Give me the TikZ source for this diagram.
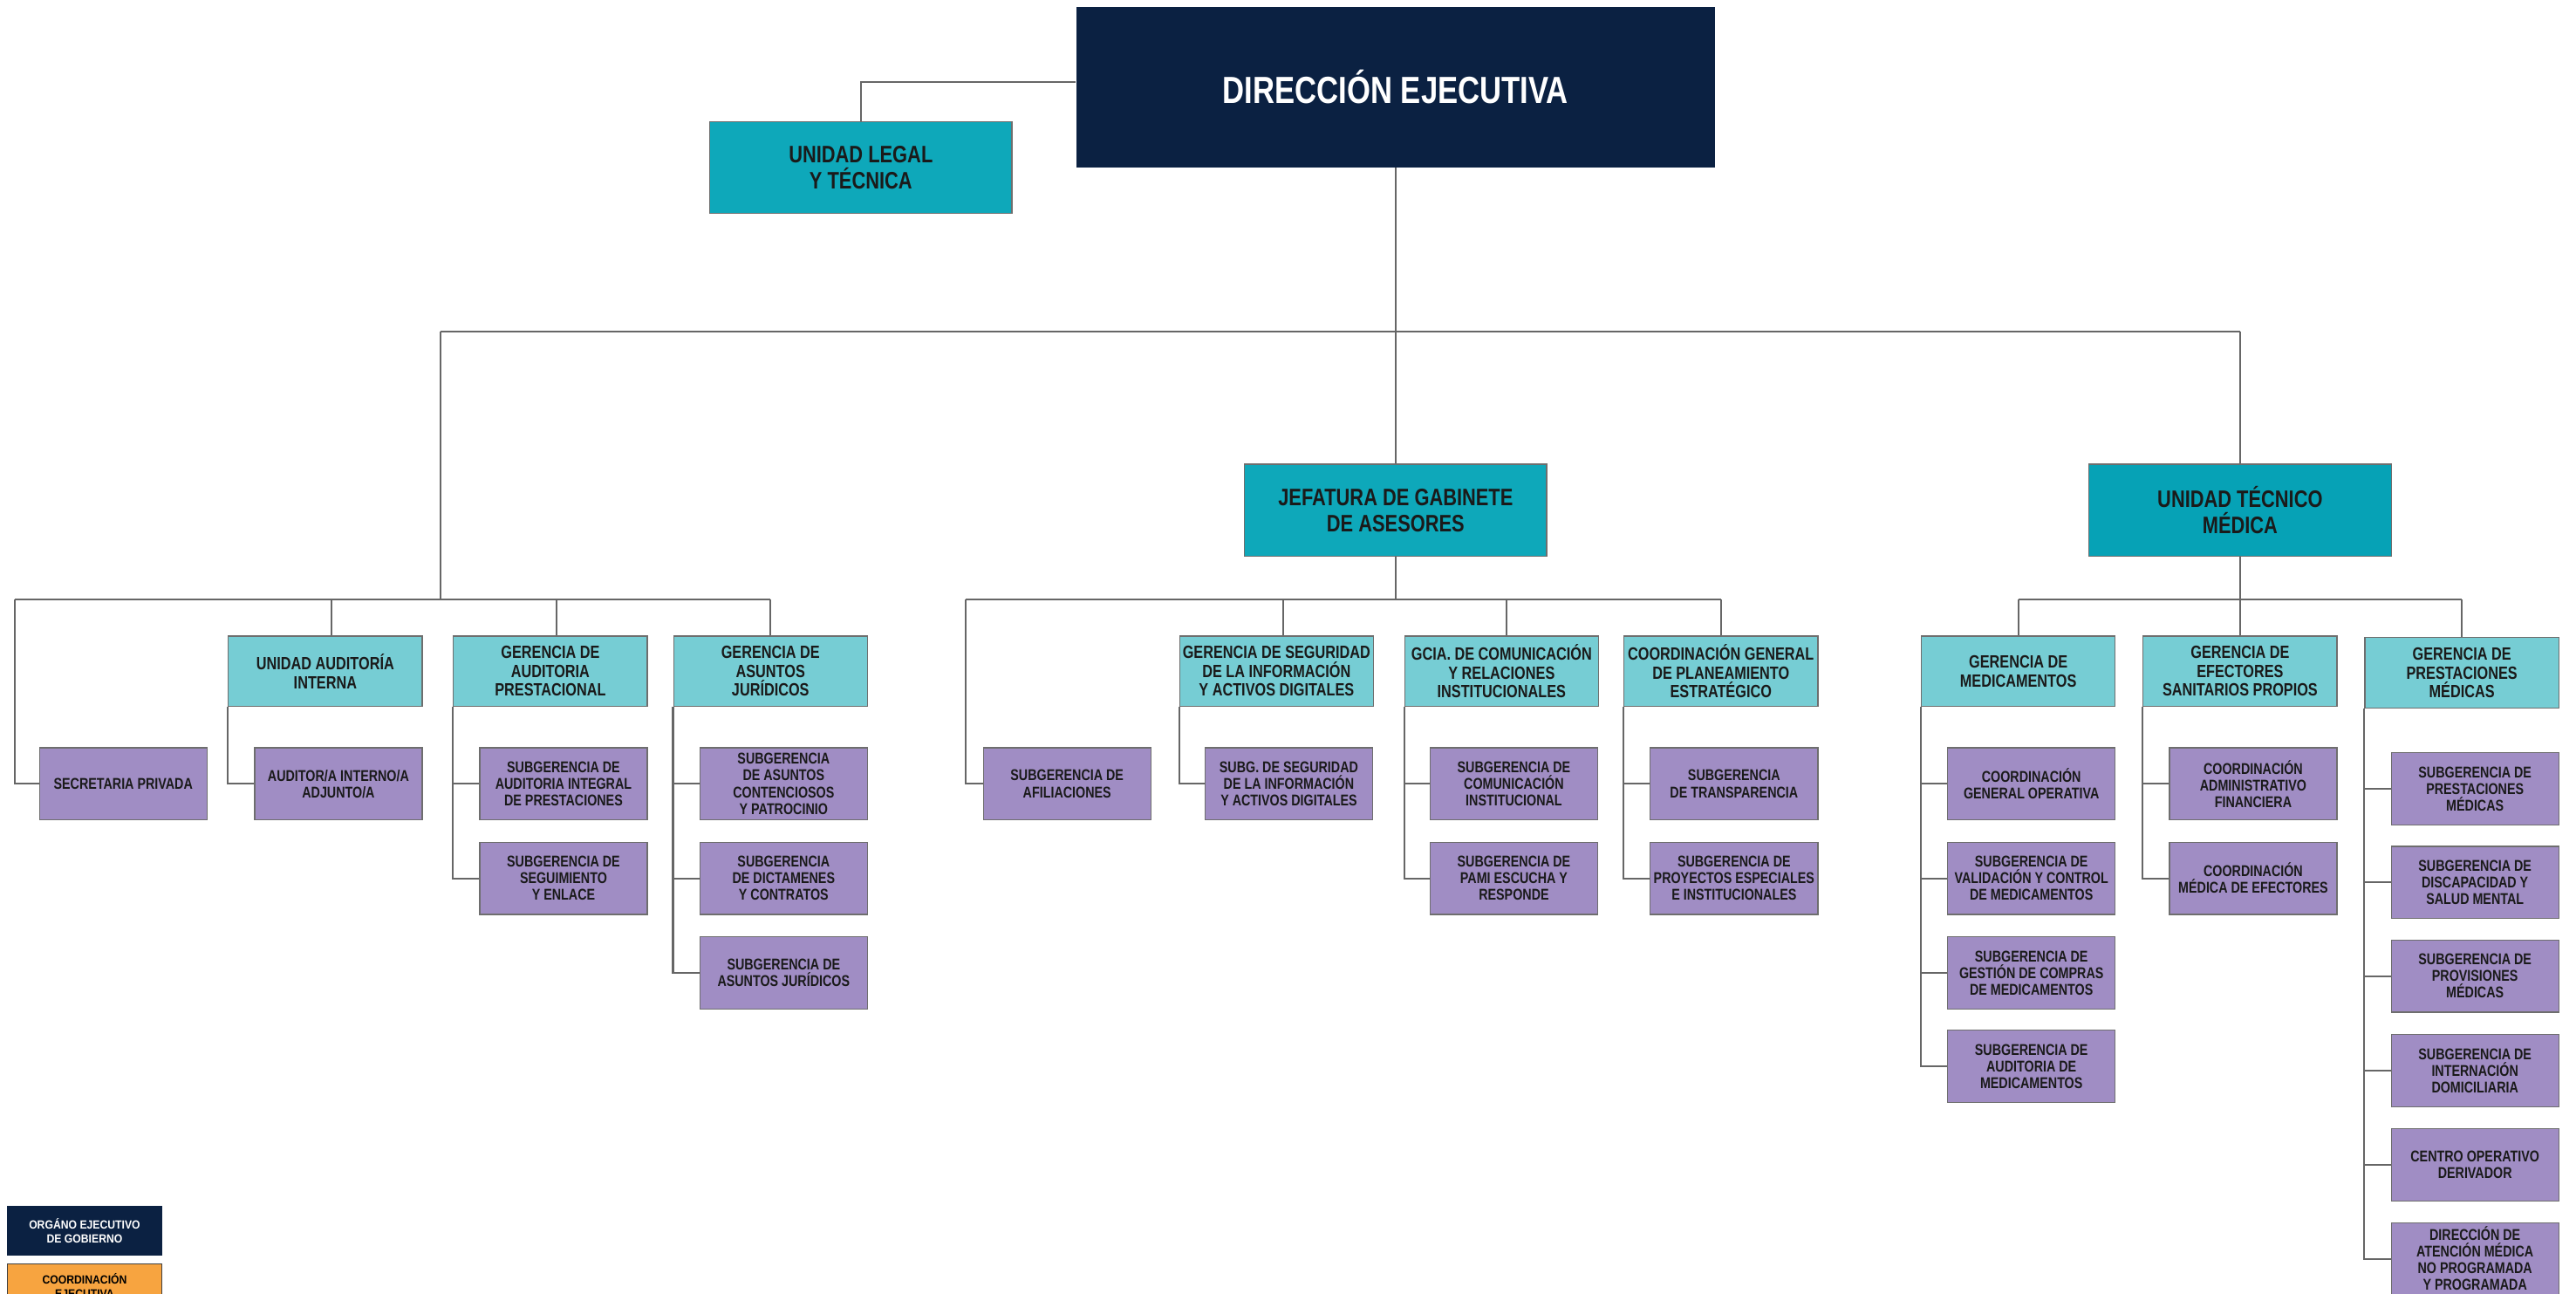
\documentclass[tikz,border=0pt]{standalone}
\usepackage{fontspec}
\setmainfont{Liberation Sans}[FakeStretch=0.8]
\newfontfamily\legfont{Liberation Sans}[FakeStretch=0.9]
\definecolor{navy}{HTML}{0B2142}
\definecolor{tealtop}{HTML}{0EA8BA}
\definecolor{tealutm}{HTML}{06A2B6}
\definecolor{teallight}{HTML}{76CDD4}
\definecolor{purp}{HTML}{A08DC4}
\definecolor{linegray}{HTML}{666666}
\definecolor{boxgray}{HTML}{6E6E6E}
\definecolor{textdark}{HTML}{1A1A1A}
\definecolor{legorange}{HTML}{F7A440}
\begin{document}
\begin{tikzpicture}[x=1pt,y=-1pt,
  box/.style={rectangle, draw=boxgray, line width=0.7pt, inner sep=0pt, align=center, text=textdark},
  dirbox/.style={rectangle, fill=navy, inner sep=0pt, minimum width=389pt, minimum height=98pt, text=white, font=\fontsize{23}{25}\selectfont\bfseries},
  topbox/.style={box, fill=tealtop, minimum width=184pt, minimum height=56pt, font=\fontsize{14.5}{16}\selectfont\bfseries},
  gbox/.style={box, fill=teallight, minimum width=118pt, minimum height=43pt, font=\fontsize{10.8}{11.4}\selectfont\bfseries},
  sbox/.style={box, fill=purp, minimum width=102pt, minimum height=44pt, font=\fontsize{9.5}{10.1}\selectfont\bfseries},
  legbox/.style={rectangle, inner sep=0pt, minimum width=94pt, align=center},
  legtext/.style={inner sep=0pt, align=center, font=\legfont\fontsize{7.2}{8.4}\selectfont\bfseries},
  conn/.style={draw=linegray, line width=1.1pt}
]
\useasboundingbox (0,0) rectangle (1568,787);
\clip (0,0) rectangle (1568,787);
\fill[white] (0,0) rectangle (1568,787);

% top level
\node[dirbox] (dir) at (849.5,53) {DIRECCIÓN EJECUTIVA};
\node[topbox] (legal) at (524,102) {UNIDAD LEGAL\\Y TÉCNICA};
\node[topbox] (jef) at (849.5,310.5) {JEFATURA DE GABINETE\\DE ASESORES};
\node[topbox, fill=tealutm] (utm) at (1363.5,310.5) {UNIDAD TÉCNICO\\MÉDICA};

% level 2
\node[gbox] (uai) at (198,408.5) {UNIDAD AUDITORÍA\\INTERNA};
\node[gbox] (gap) at (335,408.5) {GERENCIA DE\\AUDITORIA\\PRESTACIONAL};
\node[gbox] (gaj) at (469,408.5) {GERENCIA DE\\ASUNTOS\\JURÍDICOS};
\node[gbox] (gsi) at (777,408.5) {GERENCIA DE SEGURIDAD\\DE LA INFORMACIÓN\\Y ACTIVOS DIGITALES};
\node[gbox] (gcom) at (914,408.5) {GCIA. DE COMUNICACIÓN\\Y RELACIONES\\INSTITUCIONALES};
\node[gbox] (cgpe) at (1047.5,408.5) {COORDINACIÓN GENERAL\\DE PLANEAMIENTO\\ESTRATÉGICO};
\node[gbox] (gmed) at (1228.5,408.5) {GERENCIA DE\\MEDICAMENTOS};
\node[gbox] (gefe) at (1363.5,408.5) {GERENCIA DE\\EFECTORES\\SANITARIOS PROPIOS};
\node[gbox] (gpm) at (1498.5,409.5) {GERENCIA DE\\PRESTACIONES\\MÉDICAS};

% level 3
\node[sbox] (sec) at (75,477) {SECRETARIA PRIVADA};
\node[sbox] (aud) at (206,477) {AUDITOR/A INTERNO/A\\ADJUNTO/A};
\node[sbox] (gap1) at (343,477) {SUBGERENCIA DE\\AUDITORIA INTEGRAL\\DE PRESTACIONES};
\node[sbox] (gap2) at (343,534.5) {SUBGERENCIA DE\\SEGUIMIENTO\\Y ENLACE};
\node[sbox] (gaj1) at (477,477) {SUBGERENCIA\\DE ASUNTOS\\CONTENCIOSOS\\Y PATROCINIO};
\node[sbox] (gaj2) at (477,534.5) {SUBGERENCIA\\DE DICTAMENES\\Y CONTRATOS};
\node[sbox] (gaj3) at (477,592) {SUBGERENCIA DE\\ASUNTOS JURÍDICOS};
\node[sbox] (afi) at (649.5,477) {SUBGERENCIA DE\\AFILIACIONES};
\node[sbox] (gsi1) at (784.5,477) {SUBG. DE SEGURIDAD\\DE LA INFORMACIÓN\\Y ACTIVOS DIGITALES};
\node[sbox] (gcom1) at (921.5,477) {SUBGERENCIA DE\\COMUNICACIÓN\\INSTITUCIONAL};
\node[sbox] (gcom2) at (921.5,534.5) {SUBGERENCIA DE\\PAMI ESCUCHA Y\\RESPONDE};
\node[sbox] (cgpe1) at (1055.5,477) {SUBGERENCIA\\DE TRANSPARENCIA};
\node[sbox] (cgpe2) at (1055.5,534.5) {SUBGERENCIA DE\\PROYECTOS ESPECIALES\\E INSTITUCIONALES};
\node[sbox] (gmed1) at (1236.5,477) {COORDINACIÓN\\GENERAL OPERATIVA};
\node[sbox] (gmed2) at (1236.5,534.5) {SUBGERENCIA DE\\VALIDACIÓN Y CONTROL\\DE MEDICAMENTOS};
\node[sbox] (gmed3) at (1236.5,592) {SUBGERENCIA DE\\GESTIÓN DE COMPRAS\\DE MEDICAMENTOS};
\node[sbox] (gmed4) at (1236.5,649) {SUBGERENCIA DE\\AUDITORIA DE\\MEDICAMENTOS};
\node[sbox] (gefe1) at (1371.5,477) {COORDINACIÓN\\ADMINISTRATIVO\\FINANCIERA};
\node[sbox] (gefe2) at (1371.5,534.5) {COORDINACIÓN\\MÉDICA DE EFECTORES};
\node[sbox] (gpm1) at (1506.5,480) {SUBGERENCIA DE\\PRESTACIONES\\MÉDICAS};
\node[sbox] (gpm2) at (1506.5,537) {SUBGERENCIA DE\\DISCAPACIDAD Y\\SALUD MENTAL};
\node[sbox] (gpm3) at (1506.5,594) {SUBGERENCIA DE\\PROVISIONES\\MÉDICAS};
\node[sbox] (gpm4) at (1506.5,651.5) {SUBGERENCIA DE\\INTERNACIÓN\\DOMICILIARIA};
\node[sbox] (gpm5) at (1506.5,709) {CENTRO OPERATIVO\\DERIVADOR};
\node[sbox] (gpm6) at (1506.5,766) {DIRECCIÓN DE\\ATENCIÓN MÉDICA\\NO PROGRAMADA\\Y PROGRAMADA};

% legend
\node[legbox, fill=navy, minimum height=30pt] (leg1) at (51.5,749) {};
\node[legtext, text=white] (leg1t) at (leg1.center) {ORGÁNO EJECUTIVO\\DE GOBIERNO};
\node[legbox, fill=legorange, draw=black!75, line width=0.7pt, minimum height=38pt] (leg2) at (51.5,788) {};
\node[legtext, text=black, anchor=north] (leg2t) at ([yshift=-6pt]leg2.north) {COORDINACIÓN\\EJECUTIVA};

% coordinates for buses
\coordinate (busA) at (268,202);
\coordinate (busB) at (1363.5,202);
\coordinate (lA) at (9,365);
\coordinate (lB) at (469,365);
\coordinate (mA) at (588,365);
\coordinate (mB) at (1047.5,365);
\coordinate (rA) at (1228.5,365);
\coordinate (rB) at (1498.5,365);

% connectors top
\draw[conn] ([yshift=3pt]dir.west) -| (legal.north);
\draw[conn] (dir.south) -- (jef.north);
\draw[conn] (busA) -- (busB);
\draw[conn] (busB) -- (utm.north);

% left group
\draw[conn] (busA) -- (busA |- lA);
\draw[conn] (lA) -- (lB);
\draw[conn] (lA) |- (sec.west);
\draw[conn] ([xshift=4pt]uai.north |- lA) -- ([xshift=4pt]uai.north);
\draw[conn] ([xshift=4pt]gap.north |- lA) -- ([xshift=4pt]gap.north);
\draw[conn] (lB) -- (gaj.north);
\draw[conn] (uai.south west) |- (aud.west);
\draw[conn] (gap.south west) |- (gap1.west);
\draw[conn] (gap.south west) |- (gap2.west);
\draw[conn] (gaj.south west) |- (gaj1.west);
\draw[conn] (gaj.south west) |- (gaj2.west);
\draw[conn] (gaj.south west) |- (gaj3.west);

% middle group
\draw[conn] (jef.south) -- (jef.south |- mA);
\draw[conn] (mA) -- (mB);
\draw[conn] (mA) |- (afi.west);
\draw[conn] ([xshift=4pt]gsi.north |- mA) -- ([xshift=4pt]gsi.north);
\draw[conn] ([xshift=3pt]gcom.north |- mA) -- ([xshift=3pt]gcom.north);
\draw[conn] (mB) -- (cgpe.north);
\draw[conn] (gsi.south west) |- (gsi1.west);
\draw[conn] (gcom.south west) |- (gcom1.west);
\draw[conn] (gcom.south west) |- (gcom2.west);
\draw[conn] (cgpe.south west) |- (cgpe1.west);
\draw[conn] (cgpe.south west) |- (cgpe2.west);

% right group
\draw[conn] (utm.south) -- (utm.south |- rA);
\draw[conn] (rA) -- (rB);
\draw[conn] (rA) -- (gmed.north);
\draw[conn] (gefe.north |- rA) -- (gefe.north);
\draw[conn] (rB) -- (gpm.north);
\draw[conn] (gmed.south west) |- (gmed1.west);
\draw[conn] (gmed.south west) |- (gmed2.west);
\draw[conn] (gmed.south west) |- (gmed3.west);
\draw[conn] (gmed.south west) |- (gmed4.west);
\draw[conn] (gefe.south west) |- (gefe1.west);
\draw[conn] (gefe.south west) |- (gefe2.west);
\draw[conn] (gpm.south west) |- (gpm1.west);
\draw[conn] (gpm.south west) |- (gpm2.west);
\draw[conn] (gpm.south west) |- (gpm3.west);
\draw[conn] (gpm.south west) |- (gpm4.west);
\draw[conn] (gpm.south west) |- (gpm5.west);
\draw[conn] (gpm.south west) |- (gpm6.west);
\end{tikzpicture}
\end{document}
